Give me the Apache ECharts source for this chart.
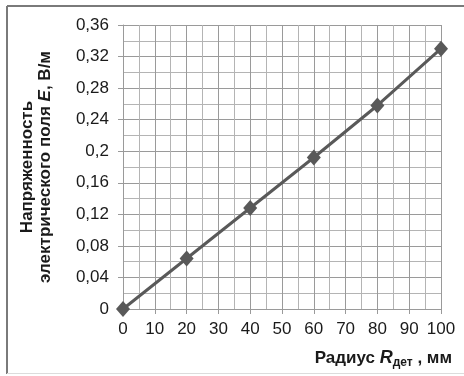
<!DOCTYPE html>
<html>
<head>
<meta charset="utf-8">
<script src="https://cdn.jsdelivr.net/npm/echarts@6/dist/echarts.min.js"></script>
<style>
  html, body { margin: 0; padding: 0; background: #fff; }
  #chart { width: 464px; height: 376px; }
</style>
</head>
<body>
<div id="chart"></div>
<script>
// radius of the detail, mm
const radiusMm = [0, 20, 40, 60, 80, 100];
// electric field strength E, V/m
const fieldStrength = [0, 0.064, 0.128, 0.192, 0.258, 0.33];

const xTicks = { min: 0, max: 100, step: 10 };
const yTicks = { min: 0, max: 0.36, step: 0.04 };

const GRID_MAJOR = "#9a9a9a";
const GRID_MINOR = "#b4b4b4";
const LINE_COLOR = "#595959";
const FONT = "Liberation Sans, Arial, sans-serif";

const chart = echarts.init(document.getElementById("chart"));

const formatComma = (v) => String(+v.toFixed(2)).replace(".", ",");

chart.setOption({
  animation: false,
  backgroundColor: "#fff",
  grid: { left: 123, top: 25, right: 23, bottom: 67 },
  xAxis: {
    type: "value",
    min: xTicks.min,
    max: xTicks.max,
    interval: xTicks.step,
    axisLine: { show: true, lineStyle: { color: GRID_MAJOR, width: 1 } },
    axisTick: { show: true, length: 5, lineStyle: { color: GRID_MAJOR } },
    minorTick: { show: false, splitNumber: 2 },
    splitLine: { show: true, lineStyle: { color: GRID_MAJOR, width: 1 } },
    minorSplitLine: { show: true, lineStyle: { color: GRID_MINOR, width: 1 } },
    axisLabel: { color: "#1a1a1a", fontFamily: FONT, fontSize: 17, margin: 12 },
  },
  yAxis: {
    type: "value",
    min: yTicks.min,
    max: yTicks.max,
    interval: yTicks.step,
    axisLine: { show: true, lineStyle: { color: GRID_MAJOR, width: 1 } },
    axisTick: { show: true, length: 5, lineStyle: { color: GRID_MAJOR } },
    minorTick: { show: false, splitNumber: 2 },
    splitLine: { show: true, lineStyle: { color: GRID_MAJOR, width: 1 } },
    minorSplitLine: { show: true, lineStyle: { color: GRID_MINOR, width: 1 } },
    axisLabel: {
      color: "#1a1a1a",
      fontFamily: FONT,
      fontSize: 17,
      margin: 14,
      formatter: formatComma,
    },
    name: "{b|Напряженность}\n{b|электрического поля }{bi|E}{b|, В/м}",
    nameLocation: "middle",
    nameRotate: 90,
    nameGap: 69,
    nameTextStyle: {
      align: "center",
      lineHeight: 18,
      rich: {
        b: { fontFamily: FONT, fontSize: 17, fontWeight: "bold", color: "#1a1a1a", lineHeight: 18 },
        bi: { fontFamily: FONT, fontSize: 17, fontWeight: "bold", fontStyle: "italic", color: "#1a1a1a", lineHeight: 18 },
      },
    },
  },
  graphic: [
    // chart frame (cut at the right side)
    { type: "line", shape: { x1: 7, y1: 6, x2: 464, y2: 6 }, style: { stroke: "#7a7a7a", lineWidth: 2 } },
    { type: "line", shape: { x1: 7, y1: 6, x2: 7, y2: 374 }, style: { stroke: "#7a7a7a", lineWidth: 2 } },
    { type: "line", shape: { x1: 7, y1: 373.5, x2: 464, y2: 373.5 }, style: { stroke: "#dcdcdc", lineWidth: 1 } },
    {
      type: "text",
      right: 12,
      top: 349,
      style: {
        text: "{b|Радиус }{bi|R}{sub|дет}{b| , мм}",
        rich: {
          b: { fontFamily: FONT, fontSize: 17, fontWeight: "bold", fill: "#1a1a1a" },
          bi: { fontFamily: FONT, fontSize: 18, fontWeight: "bold", fontStyle: "italic", fill: "#1a1a1a" },
          sub: { fontFamily: FONT, fontSize: 12, fontWeight: "bold", fill: "#1a1a1a", padding: [9, 0, 0, 0] },
        },
      },
    },
  ],
  series: [
    {
      type: "line",
      data: radiusMm.map((r, i) => [r, fieldStrength[i]]),
      symbol: "diamond",
      symbolSize: [14, 16],
      clip: false,
      lineStyle: { color: LINE_COLOR, width: 3 },
      itemStyle: { color: LINE_COLOR },
    },
  ],
});
</script>
</body>
</html>
